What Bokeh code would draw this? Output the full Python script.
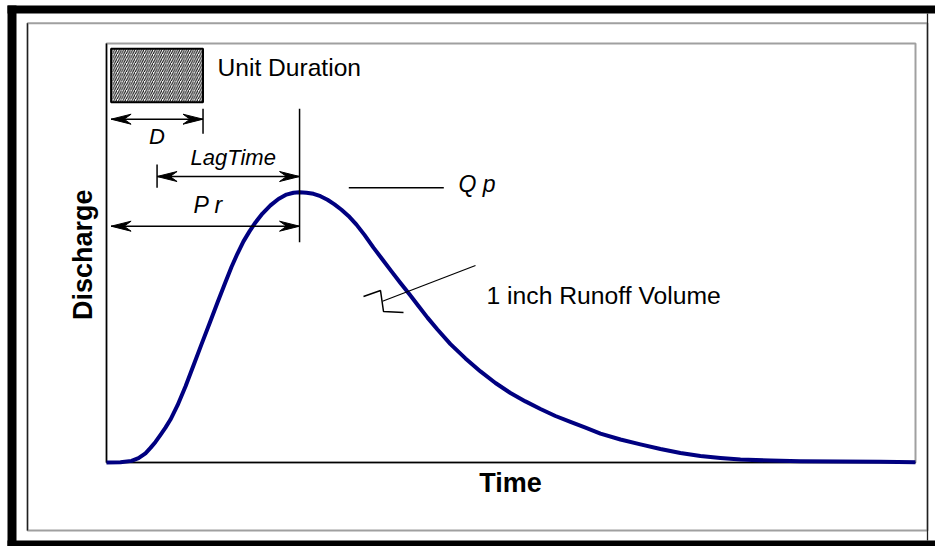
import math
from bokeh.plotting import figure
from bokeh.models import Range1d
from bokeh.core.properties import value
from bokeh.embed import file_html
from bokeh.resources import INLINE

# ---- data (time in hours, discharge as Q/Qp) ----
time_h = [-0.100, 0.204, 0.444, 0.596, 0.748, 0.857, 0.966, 1.075, 1.183, 1.292,
          1.444, 1.618, 1.792, 1.966, 2.141, 2.315, 2.489, 2.619, 2.750, 2.880,
          3.011, 3.141, 3.293, 3.467, 3.641, 3.815, 3.968, 4.100, 4.251, 4.403,
          4.555, 4.707, 4.860, 5.012, 5.164, 5.338, 5.512, 5.708, 5.904, 6.100,
          6.295, 6.491, 6.687, 6.883, 7.100, 7.383, 7.709, 8.036, 8.362, 8.688,
          9.014, 9.341, 9.667, 9.993, 10.320, 10.646, 11.081, 11.516, 11.951,
          12.386, 12.821, 13.256, 13.691, 14.344, 14.997, 15.867, 16.737, 17.498]
discharge = [0.000, 0.001, 0.006, 0.016, 0.034, 0.054, 0.076, 0.102, 0.129, 0.159,
             0.211, 0.281, 0.359, 0.437, 0.514, 0.592, 0.668, 0.723, 0.773, 0.818,
             0.855, 0.888, 0.921, 0.951, 0.975, 0.991, 0.998, 1.000, 0.998, 0.994,
             0.985, 0.972, 0.955, 0.935, 0.912, 0.880, 0.842, 0.795, 0.751, 0.707,
             0.664, 0.622, 0.579, 0.536, 0.492, 0.438, 0.385, 0.337, 0.294, 0.257,
             0.226, 0.198, 0.172, 0.150, 0.129, 0.107, 0.085, 0.067, 0.050,
             0.035, 0.024, 0.017, 0.011, 0.007, 0.005, 0.004, 0.003, 0.001]

unit_duration = 2.0
lag_time = 3.1
time_to_peak = unit_duration / 2 + lag_time
peak_q = 1.0

labels = {"unit": "Unit Duration", "d": "D", "lag": "LagTime", "pr": "P r",
          "qp": "Q p", "vol": "1 inch Runoff Volume", "x": "Time", "y": "Discharge"}

# ---- plot area geometry ----
W, H = 935, 546
PL, PR, PT, PB = 106, 915, 43, 462          # plot-area edges in pixels
T_MIN, T_MAX, Q_MIN, Q_MAX = -0.1, 17.5, 0.0, 1.55
sx = (PR - PL) / (T_MAX - T_MIN)
sy = (PB - PT) / (Q_MAX - Q_MIN)

def tx(px):
    return T_MIN + (px - PL) / sx

def qy(py):
    return Q_MIN + (PB - py) / sy

p = figure(width=W, height=H, output_backend="svg", toolbar_location=None,
           x_range=Range1d(tx(0), tx(W)), y_range=Range1d(qy(H), qy(0)),
           x_axis_type=None, y_axis_type=None, min_border=0)
p.background_fill_color = "white"
p.border_fill_color = "white"
p.outline_line_color = None

FONT = "Liberation Sans"

# ---- outer frames ----
p.quad(left=[tx(7), tx(7), tx(7)], right=[tx(W), tx(16), tx(W)],
       top=[qy(5), qy(5), qy(540)], bottom=[qy(13), qy(H), qy(H)],
       fill_color="black", line_color=None)
p.quad(left=[tx(27)], right=[tx(927)], top=[qy(22.7)], bottom=[qy(530)],
       fill_color=None, line_color="#a0a0a0", line_width=2)
p.segment([tx(27), tx(927)], [qy(22.7), qy(13)], [tx(27), tx(927)], [qy(530), qy(540)],
          line_color="#202020", line_width=1.3)

# ---- plot area frame and axes ----
p.quad(left=[T_MIN], right=[T_MAX], top=[Q_MAX], bottom=[Q_MIN],
       fill_color=None, line_color="#a0a0a0", line_width=2)
p.segment([T_MIN, T_MIN], [Q_MIN, Q_MIN], [T_MIN, T_MAX], [Q_MAX, Q_MIN],
          line_color="black", line_width=1.5)

# ---- hydrograph ----
p.line(time_h, discharge, line_color="#000080", line_width=4, line_join="round")

# ---- unit duration box ----
box_bottom, box_top = qy(101.7), qy(48.3)
p.quad(left=[0], right=[unit_duration], bottom=[box_bottom], top=[box_top],
       fill_color="white", hatch_pattern="/", hatch_color="black", hatch_scale=4.5,
       hatch_weight=1, line_color="black", line_width=2)

# ---- dimension lines ----
y_d, y_lag, y_pr, y_qp = qy(118.7), qy(176), qy(225.7), qy(187.3)
seg_x0 = [0, unit_duration / 2, 0, time_to_peak, unit_duration, unit_duration / 2, tx(348.3)]
seg_x1 = [unit_duration, time_to_peak, time_to_peak, time_to_peak, unit_duration,
          unit_duration / 2, tx(443.3)]
seg_y0 = [y_d, y_lag, y_pr, qy(108.3), qy(108.3), qy(164), y_qp]
seg_y1 = [y_d, y_lag, y_pr, qy(241.7), qy(133.3), qy(187.3), y_qp]
p.segment(seg_x0, seg_y0, seg_x1, seg_y1, line_color="black", line_width=1.5)

def head(x_tip, y, direction):
    L, n, w = 20 / sx, 13 / sx, 5 / sy
    return ([x_tip, x_tip - direction * L, x_tip - direction * n, x_tip - direction * L],
            [y, y + w, y, y - w])

heads = [head(0, y_d, -1), head(unit_duration, y_d, 1),
         head(unit_duration / 2, y_lag, -1), head(time_to_peak, y_lag, 1),
         head(0, y_pr, -1), head(time_to_peak, y_pr, 1)]
p.patches([h[0] for h in heads], [h[1] for h in heads], fill_color="black",
          line_color="black", line_width=1)

# ---- runoff volume break mark and leader ----
p.line([tx(363), tx(380), tx(383), tx(403)], [qy(296), qy(290), qy(311), qy(312)],
       line_color="black", line_width=1.5)
p.line([tx(382), tx(475)], [qy(300.7), qy(265)], line_color="black", line_width=1.2)

# ---- texts (baseline given in pixels; small correction for the renderer) ----
BASE_SHIFT = 0.37

def txt(px, py, s, size, style="normal", align="left", vertical=False):
    shift = BASE_SHIFT * size
    if vertical:
        x, y, angle = tx(px - shift), qy(py), math.pi / 2
    else:
        x, y, angle = tx(px), qy(py - shift), 0.0
    p.text(x=[x], y=[y], text=[s], text_font=value(FONT),
           text_font_size=value(f"{size}px"), text_font_style=value(style),
           text_align=value(align), angle=angle,
           text_baseline=value("alphabetic"), text_color="black")

txt(217, 75.7, labels["unit"], 24.6)
txt(110.6 + unit_duration / 2 * sx, 144, labels["d"], 22, "italic", "center")
txt(190, 165, labels["lag"], 22, "italic")
txt(193, 213.3, labels["pr"], 23, "italic")
txt(458, 192.3, labels["qp"], 23, "italic")
txt(486, 304, labels["vol"], 24.7)
txt(510, 492.3, labels["x"], 27, "bold", "center")
txt(92.5, 254.2, labels["y"], 27, "bold", "center", vertical=True)

open("out.html", "w").write(file_html(p, INLINE))
